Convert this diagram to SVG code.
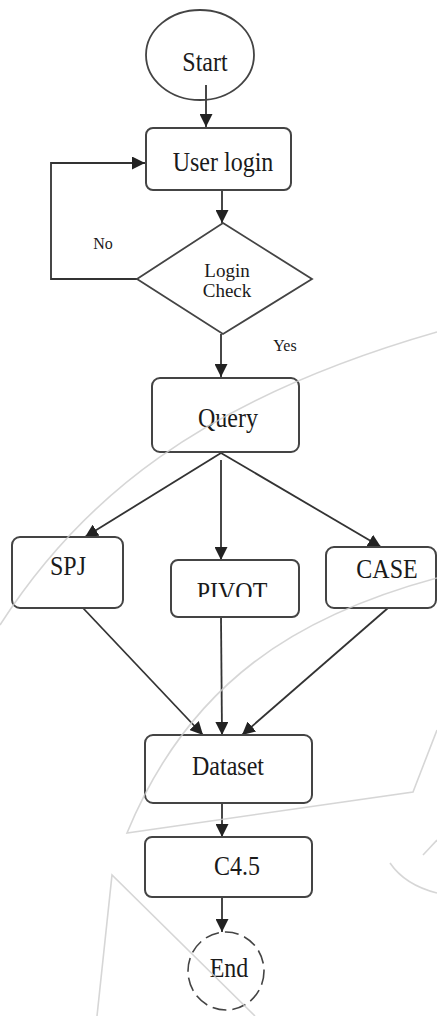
<svg xmlns="http://www.w3.org/2000/svg" width="437" height="1016" viewBox="0 0 437 1016">
  <style>
    .box { fill: #ffffff; stroke: #444444; stroke-width: 2; }
    .lbl { font-family: 'Liberation Serif', 'DejaVu Serif', 'Times New Roman', serif; fill: #1a1a1a; text-anchor: middle; }
    .big { font-size: 24px; }
    .mid { font-size: 19px; }
    .sml { font-size: 16px; }
    .conn { fill: none; stroke: #333333; stroke-width: 1.8; marker-end: url(#arrow); }
    .wm { fill: none; stroke: #cccccc; stroke-width: 1.6; opacity: 0.8; }
  </style>
  <defs>
    <marker id="arrow" viewBox="0 0 10 10" refX="10" refY="5" markerWidth="13" markerHeight="13" markerUnits="userSpaceOnUse" orient="auto">
      <path d="M0,0 L10,5 L0,10 z" fill="#222222"/>
    </marker>
    <clipPath id="pivotClip">
      <rect x="171" y="560" width="128" height="37"/>
    </clipPath>
  </defs>
  <rect width="437" height="1016" fill="#ffffff"/>

  <g id="connectors">
    <line class="conn" x1="206" y1="85" x2="206" y2="127"/>
    <line class="conn" x1="222" y1="190" x2="222" y2="223"/>
    <polyline class="conn" points="137,279 51,279 51,163 145,163"/>
    <line class="conn" x1="221" y1="334" x2="221" y2="377"/>
    <line class="conn" x1="221" y1="453" x2="85" y2="537"/>
    <line class="conn" x1="221" y1="460" x2="221" y2="560"/>
    <line class="conn" x1="221" y1="453" x2="381" y2="547"/>
    <line class="conn" x1="83" y1="608" x2="203" y2="735"/>
    <line class="conn" x1="221" y1="617" x2="222" y2="735"/>
    <line class="conn" x1="388" y1="608" x2="242" y2="735"/>
    <line class="conn" x1="222" y1="803" x2="222" y2="837"/>
    <line class="conn" x1="222" y1="897" x2="222" y2="932"/>
  </g>

  <g id="start">
    <ellipse cx="200" cy="55" rx="54" ry="45" fill="none" stroke="#444444" stroke-width="1.8"/>
    <text class="lbl big" transform="translate(205,71) scale(1,1.13)">Start</text>
  </g>
  <g id="user-login">
    <rect class="box" x="146" y="128" width="145" height="62" rx="7"/>
    <text class="lbl big" transform="translate(223,171) scale(1,1.13)">User login</text>
  </g>
  <g id="login-check">
    <polygon points="223,223 312,279 223,334 137,279" fill="#ffffff" stroke="#444444" stroke-width="1.8"/>
    <text class="lbl mid" x="227" y="277">Login</text>
    <text class="lbl mid" x="227" y="297">Check</text>
  </g>
  <g id="labels">
    <text class="lbl sml" x="103" y="249">No</text>
    <text class="lbl sml" x="285" y="351">Yes</text>
  </g>
  <g id="query">
    <rect class="box" x="152" y="378" width="147" height="74" rx="8"/>
    <text class="lbl big" transform="translate(228,427) scale(1,1.13)">Query</text>
  </g>
  <g id="spj">
    <rect class="box" x="12" y="537" width="111" height="71" rx="8"/>
    <text class="lbl big" transform="translate(68,575) scale(1,1.13)">SPJ</text>
  </g>
  <g id="pivot">
    <rect class="box" x="171" y="560" width="128" height="57" rx="7"/>
    <g clip-path="url(#pivotClip)">
      <text class="lbl big" transform="translate(232,601) scale(1,1.13)">PIVOT</text>
    </g>
  </g>
  <g id="case">
    <rect class="box" x="326" y="547" width="110" height="61" rx="8"/>
    <text class="lbl big" transform="translate(387,578) scale(1,1.13)">CASE</text>
  </g>
  <g id="dataset">
    <rect class="box" x="145" y="735" width="167" height="68" rx="8"/>
    <text class="lbl big" transform="translate(228,775) scale(1,1.13)">Dataset</text>
  </g>
  <g id="c45">
    <rect class="box" x="145" y="837" width="167" height="60" rx="7"/>
    <text class="lbl big" transform="translate(237,875) scale(1,1.13)">C4.5</text>
  </g>
  <g id="end">
    <ellipse cx="226" cy="971" rx="38" ry="39" fill="none" stroke="#444444" stroke-width="1.6" stroke-dasharray="14 6"/>
    <text class="lbl big" transform="translate(229,977) scale(1,1.13)">End</text>
  </g>

  <g id="watermark">
    <path class="wm" d="M0,625 C80,500 200,400 437,332"/>
    <path class="wm" d="M437,578 C300,615 190,680 127,833 L413,792 L437,730"/>
    <path class="wm" d="M97,1016 L112,875 L255,1016"/>
    <path class="wm" d="M390,863 Q405,885 437,893" stroke-width="5"/>
    <path class="wm" d="M423,855 L437,840" stroke-width="3"/>
  </g>
</svg>
